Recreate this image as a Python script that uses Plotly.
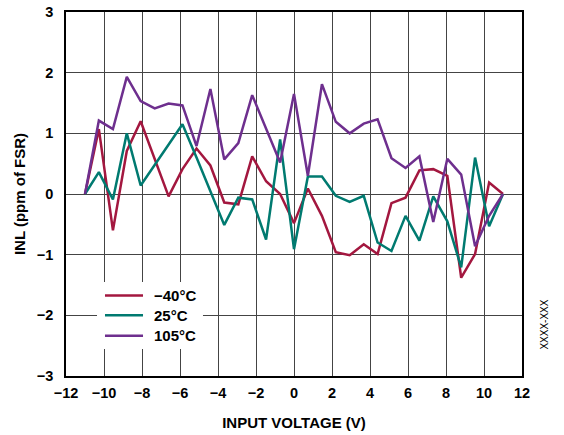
import plotly.graph_objects as go

# Input voltage (V) sample points
x_volts = [-11, -10.27, -9.53, -8.8, -8.07, -7.33, -6.6, -5.87, -5.13, -4.4,
           -3.67, -2.93, -2.2, -1.47, -0.73, 0, 0.73, 1.47, 2.2, 2.93,
           3.67, 4.4, 5.13, 5.87, 6.6, 7.33, 8.07, 8.8, 9.53, 10.27, 11]

inl_m40 = [0, 1.07, -0.6, 0.71, 1.2, 0.58, -0.04, 0.41, 0.75, 0.47,
           -0.14, -0.17, 0.62, 0.21, 0.0, -0.48, 0.09, -0.36, -0.96, -1.01,
           -0.83, -0.99, -0.15, -0.06, 0.39, 0.41, 0.3, -1.38, -0.99, 0.19, 0]

inl_25 = [0, 0.36, -0.09, 1.0, 0.14, 0.48, 0.82, 1.15, 0.6, 0.05,
          -0.51, -0.06, -0.09, -0.75, 0.9, -0.91, 0.29, 0.29, -0.03, -0.13,
          -0.03, -0.8, -0.94, -0.36, -0.77, -0.04, -0.45, -1.21, 0.6, -0.53, 0]

inl_105 = [0, 1.21, 1.07, 1.93, 1.53, 1.41, 1.49, 1.46, 0.79, 1.73,
           0.57, 0.84, 1.63, 1.07, 0.52, 1.65, 0.3, 1.81, 1.19, 1.0,
           1.16, 1.23, 0.59, 0.43, 0.62, -0.46, 0.58, 0.32, -0.86, -0.36, 0]

series_names = ["\u221240\u00b0C", "25\u00b0C", "105\u00b0C"]
series_colors = ["#A3173F", "#007A70", "#6E2F8E"]

x_ticks = list(range(-12, 13, 2))
y_ticks = list(range(-3, 4, 1))

FONT = "Arial, 'Liberation Sans', sans-serif"

fig = go.Figure()
for name, vals, col in zip(series_names, [inl_m40, inl_25, inl_105], series_colors):
    fig.add_trace(go.Scatter(x=x_volts, y=vals, mode="lines", name=name,
                             line=dict(color=col, width=2.5), showlegend=False))

axis_common = dict(showgrid=True, gridcolor="#444444", gridwidth=1,
                   showline=True, linecolor="black", linewidth=1.5, mirror=True,
                   zeroline=False, ticks="", automargin=False,
                   ticklabeloverflow="allow",
                   tickfont=dict(family=FONT, size=14.5, color="black", weight="bold"))

fig.update_layout(
    width=564, height=435,
    margin=dict(l=66, r=42, t=12, b=59),
    paper_bgcolor="white", plot_bgcolor="white",
    xaxis=dict(range=[-12, 12], tickvals=x_ticks, ticklabelstandoff=3,
               title=dict(text="INPUT VOLTAGE (V)", standoff=17,
                          font=dict(family=FONT, size=15, color="black", weight="bold")),
               **axis_common),
    yaxis=dict(range=[-3, 3], tickvals=y_ticks, ticklabelstandoff=8,
               title=dict(text="INL (ppm of FSR)", standoff=8,
                          font=dict(family=FONT, size=15, color="black", weight="bold")),
               **axis_common),
    showlegend=False,
)

# legend (white box, keys and labels) in paper coordinates
fig.add_shape(type="rect", xref="paper", yref="paper", x0=0.068, x1=0.3004,
              y0=0.0742, y1=0.2582, fillcolor="white", line=dict(width=0), layer="above")
legend_rows = [0.2212, 0.1667, 0.1107]
for name, col, ry in zip(series_names, series_colors, legend_rows):
    fig.add_shape(type="line", xref="paper", yref="paper", x0=0.0855, x1=0.1689,
                  y0=ry, y1=ry, line=dict(color=col, width=2.5), layer="above")
    fig.add_annotation(text=name, xref="paper", yref="paper", x=0.1886, y=ry,
                       xanchor="left", yanchor="middle", showarrow=False,
                       font=dict(family=FONT, size=15, color="black", weight="bold"))

fig.add_annotation(text="XXXX-XXX", xref="paper", yref="paper", x=1.066, y=0.066,
                   showarrow=False, textangle=-90,
                   font=dict(family=FONT, size=10, color="black"))

# remove the default 8px page margin so the 564x435 figure fills the window
fig.write_html("out.html",
               config={"displayModeBar": False},
               post_script="document.body.style.margin='0';document.body.style.overflow='hidden';")
